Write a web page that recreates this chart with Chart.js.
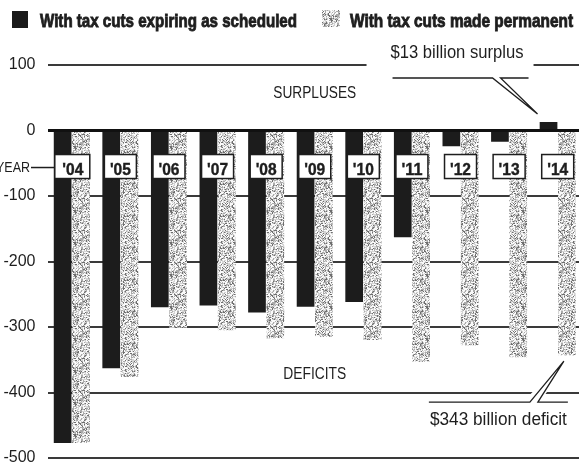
<!DOCTYPE html>
<html>
<head>
<meta charset="utf-8">
<script src="https://cdn.jsdelivr.net/npm/chart.js@4.4.1/dist/chart.umd.min.js"></script>
<style>
  html, body { margin: 0; padding: 0; background: #fff; overflow: hidden; }
  canvas { display: block; }
</style>
</head>
<body>
<canvas id="budgetChart" width="582" height="464"></canvas>
<script>
// Federal budget balance by fiscal year, billions of dollars
const years = ['2004', '2005', '2006', '2007', '2008', '2009', '2010', '2011', '2012', '2013', '2014'];
const yearLabels = ["'04", "'05", "'06", "'07", "'08", "'09", "'10", "'11", "'12", "'13", "'14"];
const scheduled = [-477, -363, -270, -267, -278, -269, -262, -163, -24, -17, 13];
const permanent = [-477, -376, -301, -305, -317, -315, -320, -353, -328, -346, -343];
const yTicks = [100, 0, -100, -200, -300, -400, -500];

const INK = '#1e1e1e';
const SANS = '"Liberation Sans", Arial, sans-serif';

const ctx = document.getElementById('budgetChart').getContext('2d');

// light halftone stipple for the "made permanent" bars
function stipple() {
  const n = 32;
  const c = document.createElement('canvas');
  c.width = c.height = n;
  const g = c.getContext('2d');
  const img = g.createImageData(n, n);
  for (let y = 0; y < n; y++) {
    for (let x = 0; x < n; x++) {
      const h = (((x * 73856093) ^ (y * 19349663)) >>> 0) % 100;
      const v = h < 14 ? 110 : h < 38 ? 170 : h < 65 ? 212 : 250;
      const i = (y * n + x) * 4;
      img.data[i] = img.data[i + 1] = img.data[i + 2] = v;
      img.data[i + 3] = 255;
    }
  }
  g.putImageData(img, 0, 0);
  return ctx.createPattern(c, 'repeat');
}
const greyFill = stipple();

// draw text squeezed/stretched to a given width (condensed newspaper type)
function fitText(c, text, x, y, width, font, align, heavy) {
  c.save();
  c.font = font;
  c.textAlign = 'left';
  c.textBaseline = 'alphabetic';
  const k = width / c.measureText(text).width;
  const left = align === 'center' ? x - width / 2 : align === 'right' ? x - width : x;
  c.translate(left, y);
  c.scale(k, 1);
  c.fillText(text, 0, 0);
  if (heavy) {
    c.strokeStyle = c.fillStyle;
    c.lineWidth = heavy;
    c.strokeText(text, 0, 0);
  }
  c.restore();
}

function line(c, pts) {
  c.beginPath();
  c.moveTo(pts[0][0], pts[0][1]);
  for (let i = 1; i < pts.length; i++) c.lineTo(pts[i][0], pts[i][1]);
  c.stroke();
}

const overlay = {
  id: 'overlay',
  afterDatasetsDraw(chart) {
    const { ctx: c, chartArea: area, scales: { x, y } } = chart;
    c.save();

    // legend
    c.fillStyle = '#1a1a1a';
    c.fillRect(12, 11, 16, 17);
    c.fillStyle = greyFill;
    c.fillRect(322, 10, 18, 17);
    c.fillStyle = INK;
    fitText(c, 'With tax cuts expiring as scheduled', 40, 26.5, 257, 'bold 19px ' + SANS, 'left', 0.9);
    fitText(c, 'With tax cuts made permanent', 350, 26.5, 223, 'bold 19px ' + SANS, 'left', 0.9);

    // region captions
    const mid = (area.left + area.right) / 2;
    fitText(c, 'SURPLUSES', mid, y.getPixelForValue(50), 83, '16px ' + SANS, 'center');
    fitText(c, 'DEFICITS', mid, y.getPixelForValue(-380), 63, '16px ' + SANS, 'center');

    // year boxes
    const boxY = y.getPixelForValue(-55);
    const firstLeft = x.getPixelForValue(0) - 17;
    c.strokeStyle = INK;
    c.lineWidth = 1.5;
    line(c, [[31, boxY + 1], [firstLeft, boxY + 1]]);
    fitText(c, 'YEAR', 30, boxY + 5.5, 34, '14px ' + SANS, 'right');
    yearLabels.forEach((lab, i) => {
      const cx = x.getPixelForValue(i);
      const w = i === 0 ? 35 : 32;
      const left = i === 0 ? firstLeft : cx - w / 2;
      c.fillStyle = '#fff';
      c.fillRect(left, boxY - 12, w, 24);
      c.strokeRect(left, boxY - 12, w, 24);
      c.fillStyle = INK;
      fitText(c, lab, cx + (i === 0 ? 1 : 0), boxY + 8, 21, 'bold 17px ' + SANS, 'center', 0.4);
    });

    c.lineWidth = 1.3;
    const last = years.length - 1;

    // callout for the 2014 surplus
    const sBar = chart.getDatasetMeta(0).data[last];
    const sTip = [sBar.x - 11, sBar.y - 8];
    const sLine = sTip[1] - 36;
    const y100 = y.getPixelForValue(100);
    c.fillStyle = '#fff';
    c.fillRect(sTip[0] - 171, y100 - 3, 167, 6);
    c.fillStyle = INK;
    fitText(c, '$13 billion surplus', sTip[0] - 147, sLine - 20, 133, '18px ' + SANS);
    c.strokeStyle = INK;
    line(c, [[sTip[0] - 145, sLine], [sTip[0] - 45, sLine], sTip, [sTip[0] - 37, sLine], [sTip[0] - 9, sLine]]);

    // callout for the 2014 deficit
    const dBar = chart.getDatasetMeta(1).data[last];
    const dTip = [dBar.x - 3, dBar.y + 6];
    const dLine = dTip[1] + 41;
    const wedge = [[dTip[0] - 34, dLine], dTip, [dTip[0] - 26, dLine]];
    c.strokeStyle = '#fff';
    c.fillStyle = '#fff';
    c.lineWidth = 6;
    c.beginPath();
    c.moveTo(wedge[0][0], wedge[0][1] - 3);
    c.lineTo(dTip[0], dTip[1] + 3);
    c.lineTo(wedge[2][0], wedge[2][1] - 3);
    c.closePath();
    c.fill();
    c.stroke();
    c.strokeStyle = INK;
    c.lineWidth = 1.3;
    line(c, [[dTip[0] - 135, dLine], wedge[0], dTip, wedge[2], [dTip[0] + 4, dLine]]);
    c.fillStyle = INK;
    fitText(c, '$343 billion deficit', dTip[0] - 134, dLine + 23, 137, '18px ' + SANS);

    c.restore();
  }
};

new Chart(ctx, {
  type: 'bar',
  data: {
    labels: years,
    datasets: [{
      label: 'With tax cuts expiring as scheduled',
      data: scheduled,
      backgroundColor: '#1c1c1c',
      categoryPercentage: 0.755,
      barPercentage: 0.965
    }, {
      label: 'With tax cuts made permanent',
      data: permanent,
      backgroundColor: greyFill,
      categoryPercentage: 0.755,
      barPercentage: 0.965
    }]
  },
  options: {
    responsive: false,
    animation: false,
    layout: { padding: { top: 65, bottom: 6, left: 0, right: 0 } },
    plugins: { legend: { display: false }, tooltip: { enabled: false } },
    scales: {
      x: { display: false },
      y: {
        min: -500,
        max: 100,
        afterBuildTicks: s => { s.ticks = yTicks.map(v => ({ value: v })); },
        afterFit: s => {
          s.width = 47.5;
          s.paddingTop = 0;
          s.paddingBottom = 0;
        },
        border: { display: false },
        grid: {
          color: g => g.tick && g.tick.value === 0 ? '#111' : '#3a3a3a',
          lineWidth: g => g.tick && g.tick.value === 0 ? 3 : 2,
          drawTicks: false
        },
        ticks: {
          padding: 12,
          color: INK,
          font: { family: SANS, size: 16 }
        }
      }
    }
  },
  plugins: [overlay]
});
</script>
</body>
</html>
